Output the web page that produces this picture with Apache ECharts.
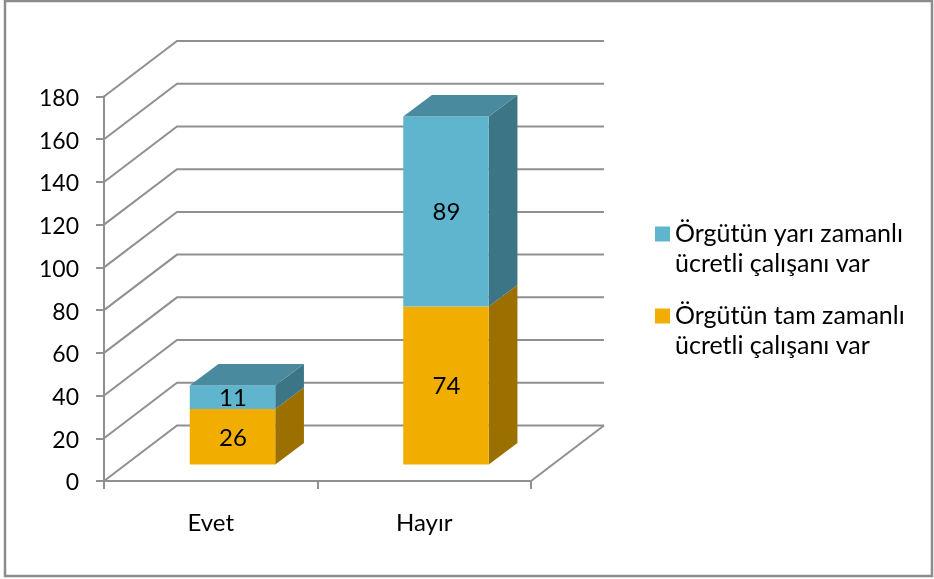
<!DOCTYPE html>
<html>
<head>
<meta charset="utf-8">
<style>
  html, body { margin: 0; padding: 0; background: #fff; }
  #chart { width: 934px; height: 579px; }
</style>
<script src="https://cdn.jsdelivr.net/npm/echarts@6/dist/echarts.min.js"></script>
</head>
<body>
<div id="chart"></div>
<script>
//----------------------Data----------------------
let categories = ["Evet", "Hayır"];
let full_time_name = "Örgütün tam zamanlı\nücretli çalışanı var";
let part_time_name = "Örgütün yarı zamanlı\nücretli çalışanı var";
let full_time_values = [26, 74];
let part_time_values = [11, 89];
let y_tick_values = [0, 20, 40, 60, 80, 100, 120, 140, 160, 180];
//----------------------Style---------------------
let font_name = "Lato";
let line_color = "#909090";
let wall_dx = 73;
let wall_dy = -55.5;
let bar_shift_x = 21.75;
let bar_shift_y = -16.4;
let bar_width = 85.5;
let bar_dx = 28.7;
let bar_dy = -21.5;
let orange_colors = {front: "#f2ae00", side: "#9c7000", top: "#b58200"};
let blue_colors = {front: "#5fb5ce", side: "#3c7585", top: "#4a8a9e"};

let chart = echarts.init(document.getElementById("chart"));

// back wall and floor lines, one per y tick
function render_wall(params, api) {
    let grid = params.coordSys;
    let y = api.coord([0, api.value(0)])[1];
    let x0 = grid.x, x1 = grid.x + grid.width;
    let children = [{
        type: "polyline",
        shape: {points: [[x0, y], [x0 + wall_dx, y + wall_dy], [x1 + wall_dx, y + wall_dy]]},
        style: {stroke: line_color, lineWidth: 2, fill: null}
    }];
    if (api.value(0) === 0) {
        children.push({
            type: "line",
            shape: {x1: x1, y1: y, x2: x1 + wall_dx, y2: y + wall_dy},
            style: {stroke: line_color, lineWidth: 2}
        });
    }
    return {type: "group", children: children};
}

// one box of a stacked bar: value(0)=category, value(1)=base, value(2)=segment
function make_render_bar(colors, with_top) {
    return function (params, api) {
        let base = api.value(1), seg = api.value(2);
        let p0 = api.coord([api.value(0), base]);
        let p1 = api.coord([api.value(0), base + seg]);
        let xl = p0[0] + bar_shift_x - bar_width / 2;
        let xr = xl + bar_width;
        let yb = p0[1] + bar_shift_y;
        let yt = p1[1] + bar_shift_y;
        let children = [
            {
                type: "polygon",
                shape: {points: [[xr, yb], [xr + bar_dx, yb + bar_dy], [xr + bar_dx, yt + bar_dy], [xr, yt]]},
                style: {fill: colors.side}
            },
            {
                type: "rect",
                shape: {x: xl, y: yt, width: bar_width, height: yb - yt},
                style: {fill: colors.front}
            }
        ];
        if (with_top) {
            children.push({
                type: "polygon",
                shape: {points: [[xl, yt], [xl + bar_dx, yt + bar_dy], [xr + bar_dx, yt + bar_dy], [xr, yt]]},
                style: {fill: colors.top}
            });
        }
        children.push({
            type: "text",
            style: {
                text: String(seg),
                x: (xl + xr) / 2 + 0.5,
                y: (yb + yt) / 2 + 1,
                align: "center",
                verticalAlign: "middle",
                fill: "#000",
                font: "24px " + font_name
            }
        });
        return {type: "group", children: children};
    };
}

//---------------------Series---------------------
let full_time_data = categories.map(function (c, i) {
    return [i, 0, full_time_values[i]];
});
let part_time_data = categories.map(function (c, i) {
    return [i, full_time_values[i], part_time_values[i]];
});

let option = {
    animation: false,
    backgroundColor: "#fff",
    graphic: [{
        type: "rect",
        silent: true,
        shape: {x: 5, y: 1, width: 927, height: 575},
        style: {fill: null, stroke: "#8c8c8c", lineWidth: 2.5}
    }],
    grid: {left: 104, top: 96.5, width: 427, height: 384.5},
    xAxis: {
        type: "category",
        data: categories,
        axisLine: {lineStyle: {color: line_color, width: 2}},
        axisTick: {show: true, length: 8, lineStyle: {color: line_color, width: 2}},
        axisLabel: {color: "#000", fontFamily: font_name, fontSize: 24, margin: 30},
        splitLine: {show: false}
    },
    yAxis: {
        type: "value",
        min: 0,
        max: 180,
        interval: 20,
        axisLine: {show: true, lineStyle: {color: line_color, width: 2}},
        axisTick: {show: true, length: 8, lineStyle: {color: line_color, width: 2}},
        axisLabel: {
            color: "#000",
            fontFamily: font_name,
            fontSize: 23,
            margin: 25,
            // nudges the numbers slightly below their tick
            verticalAlign: "top",
            lineHeight: 4
        },
        splitLine: {show: false}
    },
    legend: {
        data: [part_time_name, full_time_name],
        orient: "vertical",
        left: 650,
        top: 184,
        icon: "rect",
        itemWidth: 15,
        itemHeight: 15,
        itemGap: -8,
        selectedMode: false,
        // empty first line keeps the marker level with the name's first line
        formatter: function (name) { return "\n" + name; },
        textStyle: {
            color: "#000",
            fontFamily: font_name,
            fontSize: 25,
            lineHeight: 30
        }
    },
    series: [
        {
            type: "custom",
            silent: true,
            z: 1,
            data: y_tick_values.map(function (v) { return [v]; }),
            encode: {y: 0},
            renderItem: render_wall
        },
        {
            name: full_time_name,
            type: "custom",
            z: 3,
            itemStyle: {color: orange_colors.front},
            data: full_time_data,
            encode: {x: 0, y: [1, 2]},
            renderItem: make_render_bar(orange_colors, false)
        },
        {
            name: part_time_name,
            type: "custom",
            z: 4,
            itemStyle: {color: blue_colors.front},
            data: part_time_data,
            encode: {x: 0, y: [1, 2]},
            renderItem: make_render_bar(blue_colors, true)
        }
    ]
};
chart.setOption(option);
</script>
</body>
</html>
